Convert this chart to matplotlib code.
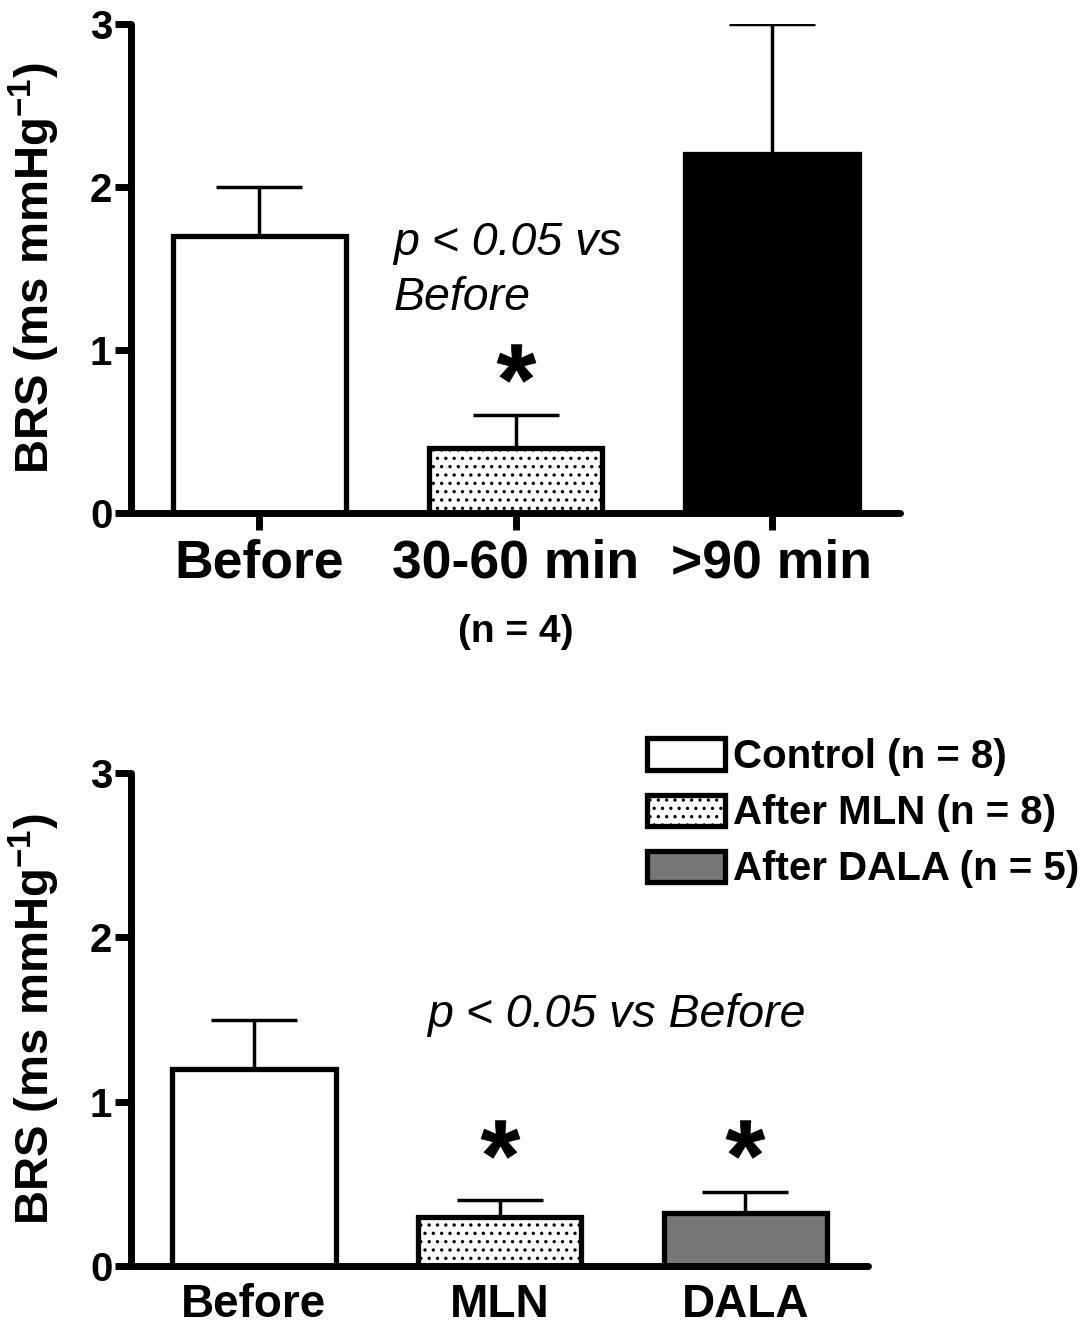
import matplotlib
matplotlib.use('Agg')
import matplotlib.pyplot as plt
import numpy as np

# Typography: Arial-like bold everywhere
plt.rcParams['font.family'] = ['Liberation Sans', 'DejaVu Sans']
plt.rcParams['font.weight'] = 'bold'
plt.rcParams['mathtext.fontset'] = 'custom'
plt.rcParams['mathtext.rm'] = 'Liberation Sans'
plt.rcParams['mathtext.bf'] = 'Liberation Sans:bold'
plt.rcParams['mathtext.it'] = 'Liberation Sans:italic'
plt.rcParams['hatch.linewidth'] = 1.2

# Top panel data (n = 4)
top_labels = ['Before', '30-60 min', '>90 min']
top_means = [1.7, 0.4, 2.2]
top_sem = [0.3, 0.2, 0.8]
top_colors = ['white', 'white', 'black']
top_hatches = ['', '..', '']
top_sig = [False, True, False]

# Bottom panel data
bot_labels = ['Before', 'MLN', 'DALA']
bot_means = [1.2, 0.3, 0.32]
bot_sem = [0.3, 0.1, 0.13]
bot_colors = ['white', 'white', '#777777']
bot_hatches = ['', '..', '']
bot_sig = [False, True, True]
legend_labels = ['Control (n = 8)', 'After MLN (n = 8)', 'After DALA (n = 5)']

y_ticks = [0, 1, 2, 3]
ylabel = r'BRS (ms mmHg$^{\mathbf{-1}}$)'


def style_axis(ax, n):
    ax.set_xlim(-0.5, n - 0.5)
    ax.set_ylim(0, 3)
    ax.set_yticks(y_ticks)
    for s in ['top', 'right']:
        ax.spines[s].set_visible(False)
    for s in ['left', 'bottom']:
        ax.spines[s].set_linewidth(5)
        ax.spines[s].set_capstyle('round')
    ax.tick_params(axis='y', length=11.5, width=5, pad=2, labelsize=29)
    ax.set_ylabel(ylabel, fontsize=34, fontweight='bold')


def draw_bars(ax, means, sem, colors, hatches, width, labels=None):
    x = np.arange(len(means))
    for i in range(len(means)):
        ax.bar(x[i], means[i], width=width, color=colors[i], edgecolor='black',
               linewidth=3.8, hatch=hatches[i], zorder=2,
               label=None if labels is None else labels[i])
    ax.errorbar(x, means, yerr=[np.zeros(len(sem)), sem], fmt='none',
                ecolor='black', elinewidth=2.5, capsize=31, capthick=2.5, zorder=1)
    return x


def draw_stars(ax, x, means, sem, sig, offset=0.32):
    tops = [m + e for m, e, s in zip(means, sem, sig) if s]
    y = max(tops) + offset
    for i, s in enumerate(sig):
        if s:
            ax.plot(x[i], y, marker=r'$\mathbf{*}$', markersize=28, color='black',
                    markeredgewidth=0.5, linestyle='none', clip_on=False)


fig = plt.figure(figsize=(10.89, 13.28), dpi=100)

# ---- top panel ----
ax1 = fig.add_axes([0.1203, 0.6137, 0.7062, 0.3682])
x1 = draw_bars(ax1, top_means, top_sem, top_colors, top_hatches, 0.676)
style_axis(ax1, len(top_means))
ax1.set_xticks(x1, top_labels, fontsize=38.5)
ax1.tick_params(axis='x', length=12, width=5, pad=6)
ax1.yaxis.set_label_coords(-0.090, 0.5)
draw_stars(ax1, x1, top_means, top_sem, top_sig)
ax1.text(0.523, 1.583, 'p < 0.05 vs', style='italic', fontweight='normal',
         fontsize=33.5, ha='left', va='baseline')
ax1.text(0.523, 1.245, 'Before', style='italic', fontweight='normal',
         fontsize=33.5, ha='left', va='baseline')
ax1.text(1, -0.73, '(n = 4)', ha='center', va='center', fontsize=28, clip_on=False)

# ---- bottom panel ----
ax2 = fig.add_axes([0.1203, 0.0467, 0.6768, 0.3712])
x2 = draw_bars(ax2, bot_means, bot_sem, bot_colors, bot_hatches, 0.665, legend_labels)
style_axis(ax2, len(bot_means))
ax2.set_xticks(x2, bot_labels, fontsize=33)
ax2.tick_params(axis='x', length=0, pad=12)
ax2.yaxis.set_label_coords(-0.094, 0.5)
draw_stars(ax2, x2, bot_means, bot_sem, bot_sig)
ax2.text(0.706, 1.455, 'p < 0.05 vs Before', style='italic', fontweight='normal',
         fontsize=33.5, ha='left', va='baseline')
ax2.legend(loc='upper left', bbox_to_anchor=(0.70, 1.071), frameon=False,
           prop={'weight': 'bold', 'size': 29}, handlelength=1.94,
           handleheight=0.82, handletextpad=0.2, labelspacing=0.45,
           borderpad=0, borderaxespad=0)

fig.savefig('out.png', dpi=100)
